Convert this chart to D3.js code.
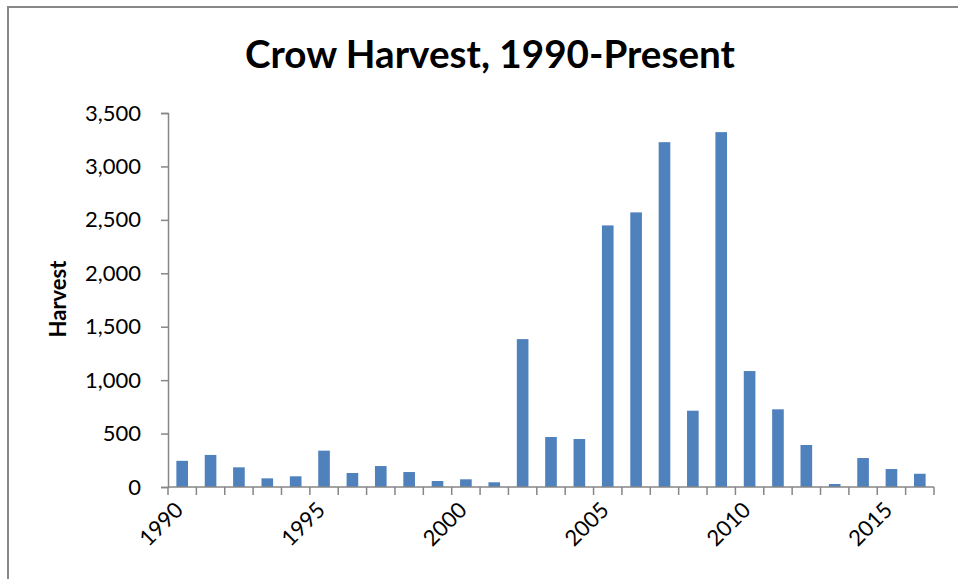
<!DOCTYPE html>
<html><head><meta charset="utf-8">
<script src="https://cdn.jsdelivr.net/npm/d3@7"></script>
<style>body{margin:0;background:#fff}svg{display:block}</style>
</head><body>
<script>
const years = [1990,1991,1992,1993,1994,1995,1996,1997,1998,1999,2000,2001,2002,2003,2004,2005,2006,2007,2008,2009,2010,2011,2012,2013,2014,2015,2016];
const harvest = [245,300,184,81,100,340,131,196,140,56,72,44,1384,468,449,2448,2570,3227,714,3321,1085,727,393,28,271,168,124];
const yTicks = [0,500,1000,1500,2000,2500,3000,3500];
const xLabelYears = [1990,1995,2000,2005,2010,2015];

const W=958,H=579;
const svg=d3.select("body").append("svg").attr("width",W).attr("height",H);
svg.append("rect").attr("x",8).attr("y",7).attr("width",W+10).attr("height",H+10)
  .attr("fill","none").attr("stroke","#888").attr("stroke-width",2);

const L=168,R=934,T=113,B=487;
const x=d3.scaleBand().domain(years).range([L,R]).paddingInner(0.59).paddingOuter(0.295);
const xb=d3.scaleBand().domain(years).range([L,R]);
const y=d3.scaleLinear().domain([0,3500]).range([B,T]);
const font="Lato, 'Open Sans', sans-serif";

svg.append("text").attr("x",490).attr("y",68).attr("text-anchor","middle")
  .attr("font-family",font).attr("font-weight","bold").attr("font-size",38)
  .attr("textLength",490).attr("lengthAdjust","spacingAndGlyphs")
  .text("Crow Harvest, 1990-Present");

svg.append("g").selectAll("rect").data(years).join("rect")
  .attr("x",d=>x(d)).attr("width",x.bandwidth())
  .attr("y",(d,i)=>y(harvest[i])).attr("height",(d,i)=>B-y(harvest[i]))
  .attr("fill","#4F81BD");

// y axis
const ya=svg.append("g").attr("transform",`translate(${L},0)`)
  .call(d3.axisLeft(y).tickValues(yTicks).tickSize(7).tickPadding(20).tickFormat(d3.format(",")));
ya.select(".domain").attr("stroke","#868686").attr("stroke-width",1.5);
ya.selectAll(".tick line").attr("stroke","#868686").attr("stroke-width",1.5);
ya.selectAll("text").attr("font-family",font).attr("font-size",22).attr("fill","#000");

// x axis
const xg=svg.append("g");
xg.append("line").attr("x1",L).attr("x2",R).attr("y1",B).attr("y2",B).attr("stroke","#868686").attr("stroke-width",1.5);
const bounds=years.map(d=>xb(d)).concat([R]);
xg.selectAll("line.t").data(bounds).join("line").attr("class","t")
  .attr("x1",d=>d).attr("x2",d=>d).attr("y1",B).attr("y2",B+8).attr("stroke","#868686").attr("stroke-width",1.5);
xg.selectAll("text").data(xLabelYears).join("text")
  .attr("transform",d=>`translate(${xb(d)+xb.bandwidth()/2-3},${B+19}) rotate(-45)`)
  .attr("text-anchor","end").attr("dy","0.35em")
  .attr("font-family",font).attr("font-size",22).text(d=>d);

svg.append("text").attr("transform",`translate(66,299) rotate(-90)`).attr("text-anchor","middle")
  .attr("font-family",font).attr("font-weight","bold").attr("font-size",22).text("Harvest");
</script>
</body></html>
